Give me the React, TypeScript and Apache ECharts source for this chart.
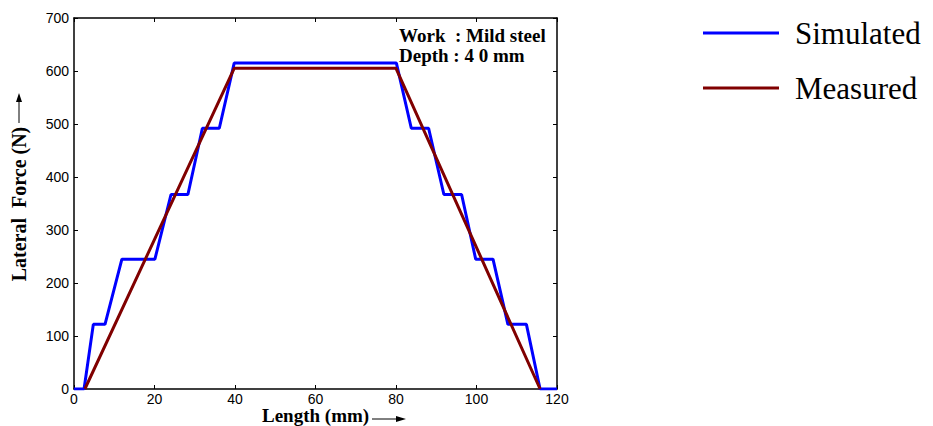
import React, { useEffect, useRef } from "react";
import * as echarts from "echarts";

const simulatedX = [0, 2.5, 4.8, 7.7, 11.9, 20.1, 24.1, 28.3, 31.9, 36.1, 39.8, 80.1, 83.8, 88.1, 91.9, 96.3, 99.8, 104.1, 107.8, 112.4, 115.8, 120];
const simulatedY = [0, 0, 122, 122, 245, 245, 367, 367, 492, 492, 615, 615, 492, 492, 367, 367, 245, 245, 122, 122, 0, 0];
const measuredX = [2.7, 39.8, 80.0, 115.8];
const measuredY = [0, 605, 605, 0];
const xTicks = [0, 20, 40, 60, 80, 100, 120];
const yTicks = [0, 100, 200, 300, 400, 500, 600, 700];

const seriesNames = ["Simulated", "Measured"];
const annotationLines = ["Work  : Mild steel", "Depth : 4 0 mm"];
const yAxisTitle = "Lateral  Force (N)";
const xAxisTitle = "Length (mm)";

export default function App() {
  const ref = useRef<HTMLDivElement>(null);
  useEffect(() => {
    if (!ref.current) return;
    const chart = echarts.init(ref.current, null, { renderer: "svg" });
    const serif = "'Liberation Serif', 'Times New Roman', serif";
    const sans = "'Liberation Sans', Arial, sans-serif";
    const axisCommon = {
      type: "value" as const,
      axisLine: { show: true, onZero: false, lineStyle: { color: "#000", width: 1.5 } },
      axisTick: { show: true, inside: true, length: 4, lineStyle: { color: "#000", width: 1 } },
      splitLine: { show: false },
    };
    chart.setOption({
      animation: false,
      backgroundColor: "#fff",
      grid: { left: 74, top: 18, width: 483, height: 371, containLabel: false },
      legend: {
        orient: "vertical",
        left: 698,
        top: 11,
        itemWidth: 76,
        itemHeight: 3,
        itemGap: 21,
        icon: "rect",
        data: seriesNames,
        textStyle: { fontFamily: serif, fontSize: 31, color: "#000", lineHeight: 34, padding: [0, 0, 0, 11] },
      },
      xAxis: [
        {
          ...axisCommon,
          min: 0,
          max: 120,
          interval: 20,
          position: "bottom",
          axisLabel: { color: "#000", fontFamily: sans, fontSize: 14, lineHeight: 12, margin: 4, formatter: (v: number) => (xTicks.includes(v) ? String(v) : "") },
        },
        {
          ...axisCommon,
          min: 0,
          max: 120,
          interval: 20,
          position: "top",
          axisLabel: { show: false },
        },
      ],
      yAxis: [
        {
          ...axisCommon,
          min: 0,
          max: 700,
          interval: 100,
          position: "left",
          axisLabel: { color: "#000", fontFamily: sans, fontSize: 14, margin: 5, formatter: (v: number) => (yTicks.includes(v) ? String(v) : "") },
        },
        {
          ...axisCommon,
          min: 0,
          max: 700,
          interval: 100,
          position: "right",
          axisLabel: { show: false },
        },
      ],
      series: [
        {
          name: seriesNames[0],
          type: "line",
          data: simulatedX.map((x, i) => [x, simulatedY[i]]),
          showSymbol: false,
          symbol: "none",
          lineStyle: { color: "#0000ff", width: 3 },
          itemStyle: { color: "#0000ff" },
          z: 2,
        },
        {
          name: seriesNames[1],
          type: "line",
          data: measuredX.map((x, i) => [x, measuredY[i]]),
          showSymbol: false,
          symbol: "none",
          lineStyle: { color: "#800000", width: 3 },
          itemStyle: { color: "#800000" },
          z: 3,
        },
      ],
      graphic: [
        {
          type: "text",
          left: 399,
          top: 25,
          style: { text: annotationLines.join("\n"), font: `bold 19px ${serif}`, fill: "#000", lineHeight: 20 },
        },
        {
          type: "text",
          x: 19,
          y: 204,
          rotation: Math.PI / 2,
          style: { text: yAxisTitle, font: `bold 20px ${serif}`, fill: "#000", align: "center", verticalAlign: "middle" },
        },
        { type: "line", shape: { x1: 19, y1: 123, x2: 19, y2: 100 }, style: { stroke: "#000", lineWidth: 1 } },
        { type: "polygon", shape: { points: [[19, 93], [16, 102], [22, 102]] }, style: { fill: "#000" } },
        {
          type: "text",
          left: 262,
          top: 406,
          style: { text: xAxisTitle, font: `bold 19px ${serif}`, fill: "#000" },
        },
        { type: "line", shape: { x1: 372, y1: 419, x2: 398, y2: 419 }, style: { stroke: "#000", lineWidth: 1 } },
        { type: "polygon", shape: { points: [[406, 419], [396, 416], [396, 422]] }, style: { fill: "#000" } },
      ],
    });
    return () => chart.dispose();
  }, []);
  return <div ref={ref} style={{ width: 933, height: 426, position: "absolute", left: 0, top: 0 }} />;
}
